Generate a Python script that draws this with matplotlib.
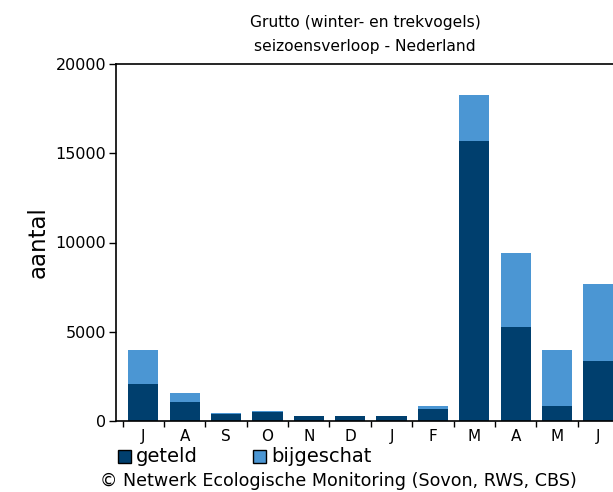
import matplotlib
matplotlib.use("Agg")
import matplotlib.pyplot as plt
from matplotlib.patches import Rectangle

months = ["J", "A", "S", "O", "N", "D", "J", "F", "M", "A", "M", "J"]
geteld = [2050, 1060, 380, 500, 260, 260, 260, 670, 15700, 5270, 860, 3360]
totaal = [3960, 1560, 470, 560, 260, 260, 260, 860, 18250, 9400, 3970, 7680]
bijgeschat = [t - g for t, g in zip(totaal, geteld)]

DARK = "#003f6e"
LIGHT = "#4b96d3"

plt.rcParams["font.family"] = ["DejaVu Sans"]

fig = plt.figure(figsize=(6.13, 4.92), dpi=100)
ax = fig.add_axes([116 / 613, 1 - 421 / 492, (613 - 116) / 613 + 0.01, (421 - 64) / 492])

x = list(range(len(months)))
ax.bar(x, geteld, width=0.73, color=DARK, edgecolor="none")
ax.bar(x, bijgeschat, bottom=geteld, width=0.73, color=LIGHT, edgecolor="none")

ax.set_xlim(-0.66, 11.5)
ax.set_ylim(0, 20000)
ax.set_yticks([0, 5000, 10000, 15000, 20000])
ax.tick_params(axis="y", labelsize=11.5, length=5, width=1, direction="out", pad=2)

# boundaries get tick marks, labels sit at bar centres
ax.set_xticks([i - 0.5 for i in x] + [11.5])
ax.set_xticklabels([])
ax.tick_params(axis="x", which="major", length=4, width=1, direction="out")
ax.set_xticks(x, minor=True)
ax.set_xticklabels(months, minor=True, fontsize=11)
ax.tick_params(axis="x", which="minor", length=0, pad=6)

for s in ax.spines.values():
    s.set_linewidth(1.2)

ax.set_ylabel("aantal", fontsize=16.5, labelpad=4)

fig.text(365 / 613, 1 - 22 / 492, "Grutto (winter- en trekvogels)", ha="center", va="center", fontsize=11.2)
fig.text(365 / 613, 1 - 46 / 492, "seizoensverloop - Nederland", ha="center", va="center", fontsize=11.2)

# legend
for xs, col, lab in [(118, DARK, "geteld"), (253, LIGHT, "bijgeschat")]:
    fig.patches.append(Rectangle((xs / 613, 1 - 463 / 492), 13 / 613, 13 / 492,
                                 transform=fig.transFigure, facecolor=col,
                                 edgecolor="black", linewidth=1))
    fig.text((xs + 18) / 613, 1 - 456 / 492, lab, ha="left", va="center", fontsize=14)

fig.text(100 / 613, 1 - 481 / 492, "\u00a9 Netwerk Ecologische Monitoring (Sovon, RWS, CBS)",
         ha="left", va="center", fontsize=12.6)

fig.savefig("out.png", dpi=100)
